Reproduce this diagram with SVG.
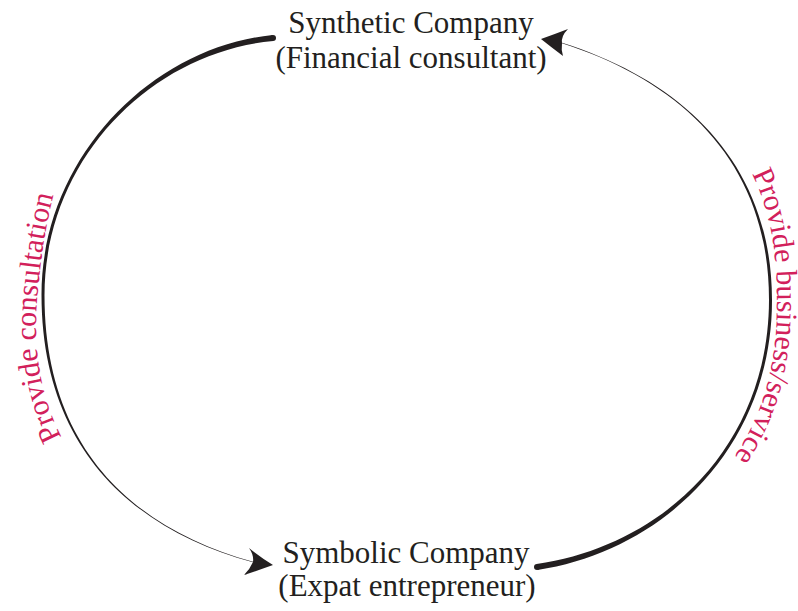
<svg xmlns="http://www.w3.org/2000/svg" width="798" height="611" viewBox="0 0 798 611">
  <style>
    .node-text { font-family: "Liberation Serif", "DejaVu Serif", serif; font-size: 31px; fill: #231f20; text-anchor: middle; }
    .flow-label { font-family: "Liberation Serif", "DejaVu Serif", serif; font-size: 30px; fill: #d2205b; }
    .stroke-body { fill: #231f20; stroke: none; }
    .head { fill: #231f20; stroke: none; }
  </style>
  <defs>
    <!-- baselines for the curved labels -->
    <path id="left-label-path" d="M66,445 C40,400 32,350 38,290 C42,245 48,215 56,185" fill="none"/>
    <path id="right-label-path" d="M750,170 C766,200 777,240 777,300 C777,360 767,410 731,462" fill="none"/>
  </defs>

  <rect width="798" height="611" fill="#ffffff"/>

  <!-- tapering arcs between the two companies -->
  <g id="connectors">
    <g id="consultation-flow">
      <path class="stroke-body" d="M272.7,35 C149.75,47.4 41.3,160 41.5,295 C41.7,450 134.87,530.48 252.93,562.24 L253.07,561.76 C135.13,529.52 44.3,450 44.5,295 C44.7,160 150.25,52.6 273.3,41 Z"/>
      <circle class="stroke-body" cx="273" cy="38" r="3"/>
      <path class="head" d="M273,565 Q260,557 249,548 Q254,555 253,562 Q250,569 244,575 Q259,570 273,565 Z"/>
      <text class="flow-label"><textPath href="#left-label-path" startOffset="9">Provide consultation</textPath></text>
    </g>
    <g id="service-flow">
      <path class="stroke-body" d="M537.44,569.97 C665.38,550.57 772.2,445 772,300 C771.8,165 685.15,81.52 562.08,42.76 L561.92,43.24 C684.85,82.48 769.2,165 769,300 C768.8,445 664.62,545.43 536.56,564.03 Z"/>
      <circle class="stroke-body" cx="537" cy="567" r="3"/>
      <path class="head" d="M541,39 Q555,34 568,29 Q561,36 562,43 Q561,50 563,56 Q551,47 541,39 Z"/>
      <text class="flow-label"><textPath href="#right-label-path" startOffset="4">Provide business/service</textPath></text>
    </g>
  </g>

  <g id="synthetic-company">
    <text class="node-text" x="411" y="33">Synthetic Company</text>
    <text class="node-text" x="411" y="68">(Financial consultant)</text>
  </g>

  <g id="symbolic-company">
    <text class="node-text" x="406" y="563">Symbolic Company</text>
    <text class="node-text" x="407" y="596">(Expat entrepreneur)</text>
  </g>
</svg>
